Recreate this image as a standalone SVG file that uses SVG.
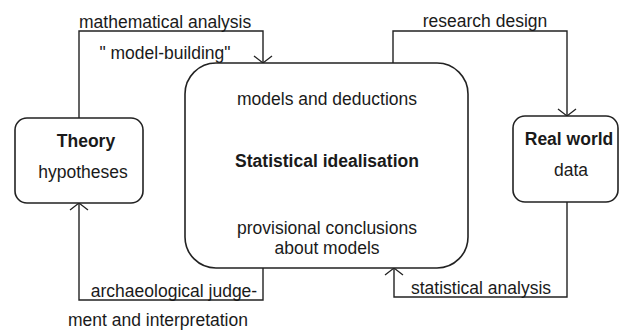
<svg xmlns="http://www.w3.org/2000/svg" width="620" height="332" viewBox="0 0 620 332">
  <defs>
    <marker id="arr" viewBox="-12 -12 24 24" refX="0" refY="0" markerWidth="24" markerHeight="24" markerUnits="userSpaceOnUse" orient="auto">
      <path d="M-7,-9 L0,0 L-7,9" fill="none" stroke="#222" stroke-width="1.3"/>
    </marker>
    <style>
      .box { fill: #fff; stroke: #222; stroke-width: 1.6; }
      .conn { fill: none; stroke: #222; stroke-width: 1.4; marker-end: url(#arr); }
      text { font-family: "Liberation Sans", Arial, sans-serif; font-size: 17.5px; fill: #1a1a1a; }
      .b { font-weight: bold; }
      .m { text-anchor: middle; }
    </style>
  </defs>
  <rect width="620" height="332" fill="#fff"/>

  <g id="connectors">
    <path class="conn" d="M79,118 V31 H263 V63"/>
    <path class="conn" d="M393,63 V31 H567 V116"/>
    <path class="conn" d="M567,202 V297 H394 V268"/>
    <path class="conn" d="M263,268 V300 H79 V203"/>
    <text x="79" y="28">mathematical analysis</text>
    <text x="165" y="59" class="m">" model-building"</text>
    <text x="485" y="27" class="m">research design</text>
    <text x="481" y="294" class="m">statistical analysis</text>
    <text x="174" y="297" class="m">archaeological judge-</text>
    <text x="158" y="326" class="m">ment and interpretation</text>
  </g>

  <g id="theory">
    <rect class="box" x="15" y="118" width="128" height="85" rx="12"/>
    <text x="86" y="147" class="m b">Theory</text>
    <text x="83" y="178" class="m">hypotheses</text>
  </g>

  <g id="statistical-idealisation">
    <rect class="box" x="185" y="63" width="283" height="205" rx="31"/>
    <text x="327" y="105" class="m">models and deductions</text>
    <text x="327" y="167" class="m b">Statistical idealisation</text>
    <text x="327" y="234" class="m">provisional conclusions</text>
    <text x="327" y="254" class="m">about models</text>
  </g>

  <g id="real-world">
    <rect class="box" x="513" y="116" width="105" height="86" rx="12"/>
    <text x="569" y="145" class="m b">Real world</text>
    <text x="571" y="176" class="m">data</text>
  </g>
</svg>
